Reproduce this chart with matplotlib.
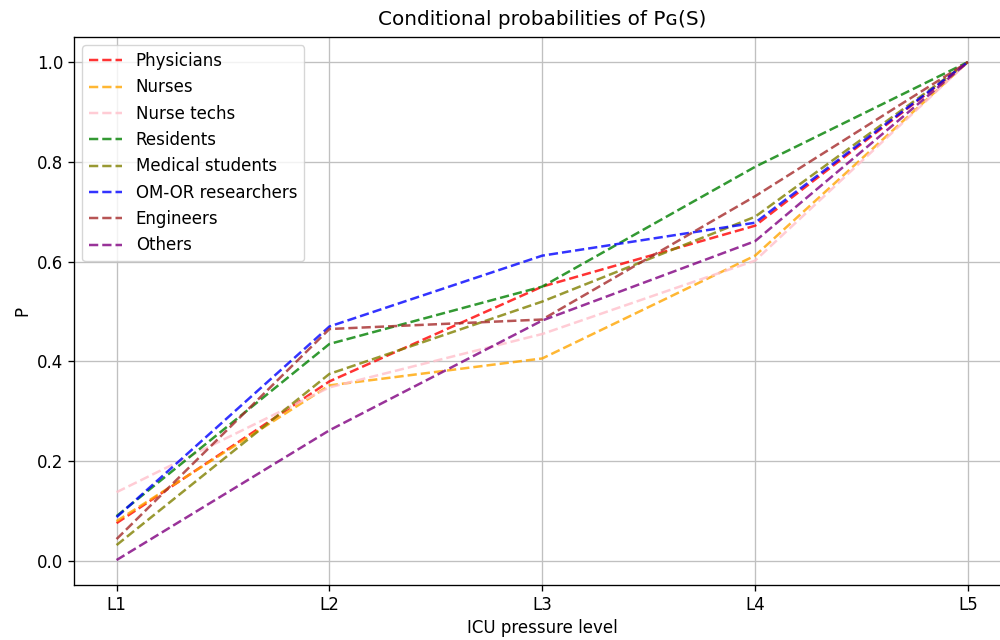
import matplotlib
matplotlib.use("Agg")
import matplotlib.pyplot as plt

levels = ["L1", "L2", "L3", "L4", "L5"]

physicians = [0.076, 0.360, 0.550, 0.672, 1.0]
nurses = [0.080, 0.352, 0.406, 0.612, 1.0]
nurse_techs = [0.138, 0.348, 0.455, 0.602, 1.0]
residents = [0.090, 0.435, 0.550, 0.790, 1.0]
medical_students = [0.032, 0.375, 0.520, 0.690, 1.0]
omor_researchers = [0.088, 0.470, 0.612, 0.678, 1.0]
engineers = [0.044, 0.465, 0.484, 0.731, 1.0]
others = [0.002, 0.262, 0.482, 0.641, 1.0]

groups = [
    ("Physicians", physicians, "red"),
    ("Nurses", nurses, "orange"),
    ("Nurse techs", nurse_techs, "pink"),
    ("Residents", residents, "green"),
    ("Medical students", medical_students, "olive"),
    ("OM-OR researchers", omor_researchers, "blue"),
    ("Engineers", engineers, "brown"),
    ("Others", others, "purple"),
]

# image looks like a default figure scaled up ~1.2x
s = 1.2
plt.rcParams.update({
    "font.size": 10 * s,
    "lines.linewidth": 1.5 * s,
    "axes.linewidth": 0.8 * s,
    "grid.linewidth": 0.8 * s,
    "grid.color": "#c0c0c0",
    "xtick.major.size": 3.5 * s,
    "ytick.major.size": 3.5 * s,
    "xtick.major.width": 0.8 * s,
    "ytick.major.width": 0.8 * s,
})

fig = plt.figure(figsize=(10, 6.4), dpi=100)
ax = fig.add_axes([0.074, 0.086, 0.9365, 0.856])

for name, vals, col in groups:
    ax.plot(levels, vals, linestyle="--", color=col, alpha=0.8, label=name)

ax.set_title("Conditional probabilities of P\u0262(S)", pad=9)
ax.set_xlabel("ICU pressure level")
ax.set_ylabel("P")
ax.legend(loc="upper left")
ax.grid()

fig.savefig("out.png", dpi=100)
